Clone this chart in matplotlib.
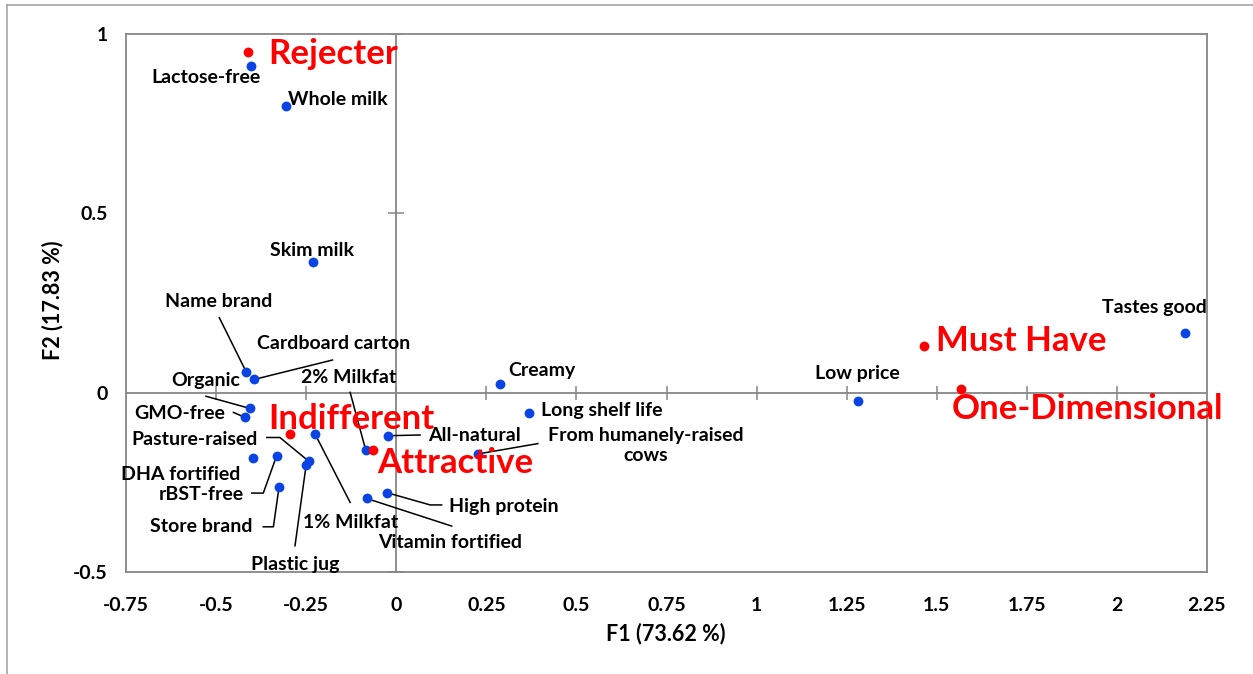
import numpy as np
import matplotlib
matplotlib.use('Agg')
import matplotlib.pyplot as plt
from matplotlib.lines import Line2D

plt.rcParams['font.family'] = ['Lato', 'DejaVu Sans']
plt.rcParams['font.weight'] = 'bold'

# attribute scores on the first two factors
attributes = ['Lactose-free', 'Whole milk', 'Skim milk', 'Name brand', 'Cardboard carton',
              'Organic', 'GMO-free', 'DHA fortified', 'rBST-free', 'Store brand',
              'Pasture-raised', 'Plastic jug', '1% Milkfat', '2% Milkfat', 'All-natural',
              'High protein', 'Vitamin fortified', 'From humanely-raised\ncows', 'Creamy',
              'Long shelf life', 'Low price', 'Tastes good']
f1 = [-0.403, -0.306, -0.231, -0.417, -0.394, -0.406, -0.420, -0.398, -0.332, -0.325,
      -0.243, -0.250, -0.225, -0.085, -0.022, -0.025, -0.082, 0.226, 0.288,
      0.369, 1.281, 2.188]
f2 = [0.911, 0.799, 0.363, 0.059, 0.037, -0.044, -0.069, -0.183, -0.176, -0.262,
      -0.191, -0.201, -0.116, -0.159, -0.120, -0.279, -0.295, -0.171, 0.024,
      -0.057, -0.022, 0.167]

# Kano categories
categories = ['Rejecter', 'Indifferent', 'Attractive', 'Must Have', 'One-Dimensional']
cat_f1 = [-0.412, -0.295, -0.064, 1.466, 1.567]
cat_f2 = [0.951, -0.114, -0.159, 0.131, 0.010]

xticks = [-0.75, -0.5, -0.25, 0, 0.25, 0.5, 0.75, 1, 1.25, 1.5, 1.75, 2, 2.25]
xtick_labels = ['-0.75', '-0.5', '-0.25', '0', '0.25', '0.5', '0.75', '1', '1.25',
                '1.5', '1.75', '2', '2.25']
yticks = [-0.5, 0, 0.5, 1]
ytick_labels = ['-0.5', '0', '0.5', '1']

# label placement: text position, alignment, leader waypoints (near label first)
label_pos = {
    'Lactose-free': ((-0.528, 0.880), 'center', None),
    'Whole milk': ((-0.300, 0.816), 'left', None),
    'Skim milk': ((-0.234, 0.397), 'center', None),
    'Name brand': ((-0.492, 0.254), 'center', [(-0.491, 0.209)]),
    'Cardboard carton': ((-0.175, 0.137), 'center', [(-0.177, 0.091)]),
    'Organic': ((-0.528, 0.034), 'center', [(-0.528, -0.010)]),
    'GMO-free': ((-0.602, -0.057), 'center', [(-0.452, -0.055)]),
    'DHA fortified': ((-0.597, -0.227), 'center', None),
    'rBST-free': ((-0.541, -0.285), 'center', [(-0.401, -0.280), (-0.369, -0.280)]),
    'Store brand': ((-0.540, -0.374), 'center', [(-0.369, -0.374), (-0.341, -0.374)]),
    'Pasture-raised': ((-0.561, -0.131), 'center', [(-0.359, -0.125), (-0.323, -0.125)]),
    'Plastic jug': ((-0.279, -0.479), 'center', [(-0.281, -0.427)]),
    '1% Milkfat': ((-0.126, -0.362), 'center', [(-0.128, -0.306)]),
    '2% Milkfat': ((-0.131, 0.043), 'center', [(-0.128, 0.001)]),
    'All-natural': ((0.217, -0.120), 'center', [(0.066, -0.118)]),
    'High protein': ((0.299, -0.316), 'center', [(0.126, -0.313), (0.094, -0.313)]),
    'Vitamin fortified': ((0.149, -0.418), 'center', [(0.154, -0.372)]),
    'From humanely-raised\ncows': ((0.693, -0.148), 'center', [(0.393, -0.142)]),
    'Creamy': ((0.404, 0.063), 'center', None),
    'Long shelf life': ((0.570, -0.050), 'center', None),
    'Low price': ((1.281, 0.054), 'center', None),
    'Tastes good': ((2.103, 0.237), 'center', None),
}
cat_pos = {
    'Rejecter': (-0.356, 0.944),
    'Indifferent': (-0.356, -0.073),
    'Attractive': (-0.054, -0.195),
    'Must Have': (1.498, 0.145),
    'One-Dimensional': (1.542, -0.046),
}

grey = '#868686'
blue = '#0A43E4'
red = '#FF0000'

fig = plt.figure(figsize=(12.53, 6.74), dpi=100)
ax = fig.add_axes([126 / 1253, 1 - 572 / 674, 1081 / 1253, 538 / 674])

ax.set_xlim(-0.75, 2.25)
ax.set_ylim(-0.5, 1)
ax.set_xticks(xticks)
ax.set_xticklabels(xtick_labels, fontweight='bold')
ax.set_yticks(yticks)
ax.set_yticklabels(ytick_labels, fontweight='bold')
ax.tick_params(axis='both', length=0, labelsize=14)
ax.tick_params(axis='x', pad=18)
ax.tick_params(axis='y', pad=13)
for sp in ax.spines.values():
    sp.set_color(grey)
    sp.set_linewidth(1.3)

# crosshair at origin with its own tick marks
ax.axhline(0, color=grey, lw=1.3, zorder=1)
ax.axvline(0, color=grey, lw=1.3, zorder=1)
ax.plot(xticks[1:-1], np.zeros(len(xticks) - 2), ls='none', marker='|', ms=10,
        mew=1.1, color=grey, zorder=1)
ax.plot([0, 0, 0], [-0.5, 0.5, 1], ls='none', marker='_', ms=12, mew=1.1,
        color=grey, zorder=1)

# leader lines
for name, px, py in zip(attributes, f1, f2):
    (tx, ty), ha, way = label_pos[name]
    if way is not None:
        xs = [w[0] for w in way] + [px]
        ys = [w[1] for w in way] + [py]
        ax.plot(xs, ys, color='black', lw=1.1, zorder=2)

ax.scatter(f1, f2, s=50, color=blue, zorder=3, linewidths=0)
ax.scatter(cat_f1, cat_f2, s=50, color=red, zorder=3, linewidths=0)

for name in attributes:
    (tx, ty), ha, way = label_pos[name]
    ax.text(tx, ty, name, ha=ha, va='center', fontsize=14, fontweight='bold',
            color='black', zorder=4, linespacing=1.25)

for name in categories:
    tx, ty = cat_pos[name]
    ax.text(tx, ty, name, ha='left', va='center', fontsize=25, fontweight='bold',
            color=red, zorder=5)

ax.set_xlabel('F1 (73.62 %)', fontsize=15.5, fontweight='bold')
ax.set_ylabel('F2 (17.83 %)', fontsize=15.5, fontweight='bold')
ax.xaxis.set_label_coords(0.499, -0.095)
ax.yaxis.set_label_coords(-0.058, 0.506)

# chart area border (Excel-style)
fig.add_artist(Line2D([7 / 1253, 1], [1 - 5 / 674, 1 - 5 / 674], color='#A6A6A6',
                      lw=1.2, transform=fig.transFigure))
fig.add_artist(Line2D([7 / 1253, 7 / 1253], [0, 1 - 5 / 674], color='#A6A6A6',
                      lw=1.2, transform=fig.transFigure))

fig.savefig('out.png', dpi=100)
